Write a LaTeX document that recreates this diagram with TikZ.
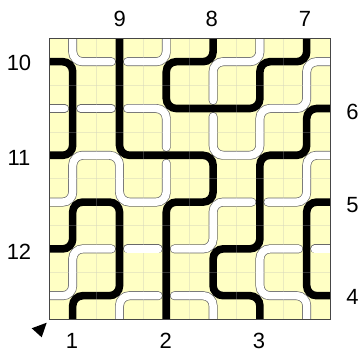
\documentclass[tikz,border=0pt]{standalone}
\usepackage{fontspec}
\setmainfont{Liberation Sans}
\usetikzlibrary{calc}
\definecolor{tileyellow}{RGB}{255,255,196}
\definecolor{edgegray}{RGB}{105,105,105}
\definecolor{bordergray}{RGB}{70,70,70}
\begin{document}
\begin{tikzpicture}[x=1pt,y=-1pt,
  blacktrack/.style={line width=7.6pt, draw=black, rounded corners=10pt},
  whitetrack/.style={draw=edgegray, double=white, double distance=7.5pt, line width=0.7pt, line cap=round, rounded corners=10pt},
  gridunder/.style={line width=0.5pt, draw=black, opacity=0.1},
  gridover/.style={line width=0.5pt, draw=white, opacity=0.2},
  lab/.style={font=\fontsize{22pt}{26pt}\selectfont, inner sep=0pt}]
\useasboundingbox (0,0) rectangle (360,352);
\def\L{49.3}\def\T{38.3}\def\S{46.8}
% tile centres and boundary points
\foreach \c in {0,...,5}{\foreach \r in {0,...,5}{
  \coordinate (t-\c-\r) at ({\L+\S*(\c+0.5)},{\T+\S*(\r+0.5)});}}
\foreach \i in {0,...,5}{
  \coordinate (top-\i) at ({\L+\S*(\i+0.5)},\T);
  \coordinate (bot-\i) at ({\L+\S*(\i+0.5)},{\T+6*\S});
  \coordinate (lft-\i) at (\L,{\T+\S*(\i+0.5)});
  \coordinate (rgt-\i) at ({\L+6*\S},{\T+\S*(\i+0.5)});}
% board
\fill[tileyellow] (\L,\T) rectangle ({\L+6*\S},{\T+6*\S});
\begin{scope}
\clip (\L,\T) rectangle ({\L+6*\S},{\T+6*\S});
\foreach \i in {1,...,5}{
  \draw[gridunder] ({\L+\S*\i},\T) -- ({\L+\S*\i},{\T+6*\S});
  \draw[gridunder] (\L,{\T+\S*\i}) -- ({\L+6*\S},{\T+\S*\i});}
% white tracks (split where they pass under black)
\draw[whitetrack] (top-0) -- (t-0-0) -- ($(t-1-0)+(-8,0)$);
\draw[whitetrack] ($(t-1-0)+(8,0)$) -- (t-2-0) -- (top-2);
\draw[whitetrack] (lft-1) -- ($(t-0-1)+(-8,0)$);
\draw[whitetrack] ($(t-0-1)+(8,0)$) -- ($(t-1-1)+(-8,0)$);
\draw[whitetrack] ($(t-1-1)+(8,0)$) -- (t-2-1) -- ($(t-2-2)+(0,-8)$);
\draw[whitetrack] ($(t-2-2)+(0,8)$) -- (t-2-3) -- (t-1-3) -- (t-1-2) -- (t-0-2) -- (t-0-3) -- (lft-3);
\draw[whitetrack] (top-4) -- (t-4-0) -- (t-3-0) -- ($(t-3-1)+(0,-8)$);
\draw[whitetrack] ($(t-3-1)+(0,8)$) -- (t-3-2) -- (t-4-2) -- (t-4-1) -- (t-5-1) -- (t-5-0) -- (rgt-0);
\draw[whitetrack] (rgt-2) -- (t-5-2) -- (t-5-3) -- ($(t-4-3)+(8,0)$);
\draw[whitetrack] ($(t-4-3)+(-8,0)$) -- (t-3-3) -- (t-3-4) -- ($(t-2-4)+(8,0)$);
\draw[whitetrack] ($(t-2-4)+(-8,0)$) -- ($(t-1-4)+(8,0)$);
\draw[whitetrack] ($(t-1-4)+(-8,0)$) -- (t-0-4) -- (t-0-5) -- (lft-5);
\draw[whitetrack] (rgt-4) -- ($(t-5-4)+(8,0)$);
\draw[whitetrack] ($(t-5-4)+(-8,0)$) -- (t-4-4) -- (t-4-5) -- (t-5-5) -- (bot-5);
\draw[whitetrack] (bot-1) -- (t-1-5) -- ($(t-2-5)+(-8,0)$);
\draw[whitetrack] ($(t-2-5)+(8,0)$) -- (t-3-5) -- (bot-3);
% black tracks
\draw[blacktrack] (lft-0) -- (t-0-0) -- (t-0-2) -- (lft-2);
\draw[blacktrack] (top-1) -- (t-1-2) -- (t-3-2) -- (t-3-3) -- (t-2-3) -- (bot-2);
\draw[blacktrack] (top-3) -- (t-3-0) -- (t-2-0) -- (t-2-1) -- (t-4-1) -- (t-4-0) -- (t-5-0) -- (top-5);
\draw[blacktrack] (rgt-1) -- (t-5-1) -- (t-5-2) -- (t-4-2) -- (t-4-4) -- (t-3-4) -- (t-3-5) -- (t-4-5) -- (bot-4);
\draw[blacktrack] (rgt-3) -- (t-5-3) -- (t-5-5) -- (rgt-5);
\draw[blacktrack] (lft-4) -- (t-0-4) -- (t-0-3) -- (t-1-3) -- (t-1-5) -- (t-0-5) -- (bot-0);
% faint tile boundaries over the tracks
\foreach \i in {1,...,5}{
  \draw[gridover] ({\L+\S*\i},\T) -- ({\L+\S*\i},{\T+6*\S});
  \draw[gridover] (\L,{\T+\S*\i}) -- ({\L+6*\S},{\T+\S*\i});}
\end{scope}
\draw[line width=0.9pt, draw=bordergray] (\L,\T) rectangle ({\L+6*\S},{\T+6*\S});
% start marker
\fill[black] (31.7,328.3) -- (46.7,322.7) -- (41.7,337.3) -- cycle;
% labels
\node[lab] (l9) at (119.7,18.7) {9};
\node[lab] (l8) at (211.7,18.7) {8};
\node[lab] (l7) at (305.0,18.7) {7};
\node[lab] (l1) at (72.0,341.0) {1};
\node[lab] (l2) at (165.7,341.0) {2};
\node[lab] (l3) at (259.0,341.0) {3};
\node[lab] (l10) at (19.0,63.3) {10};
\node[lab] (l11) at (19.0,158.0) {11};
\node[lab] (l12) at (19.0,252.0) {12};
\node[lab] (l6) at (352.5,111.7) {6};
\node[lab] (l5) at (352.5,205.0) {5};
\node[lab] (l4) at (352.5,296.7) {4};
\end{tikzpicture}
\end{document}
